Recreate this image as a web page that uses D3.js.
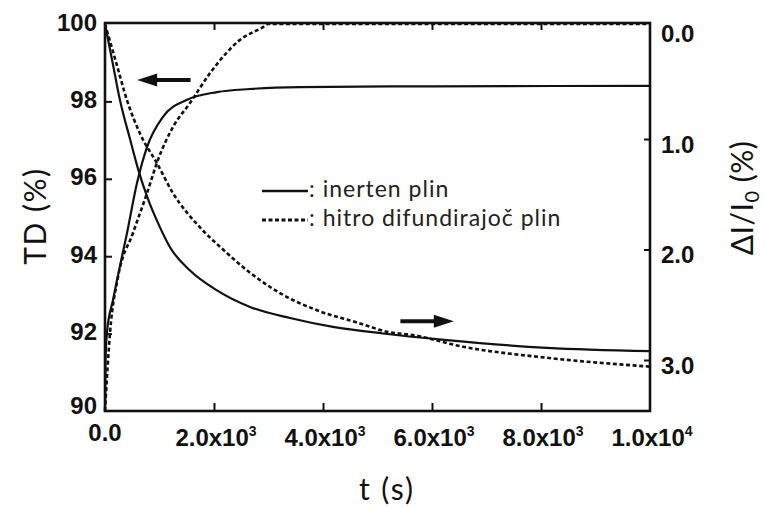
<!DOCTYPE html>
<html>
<head>
<meta charset="utf-8">
<script src="https://cdn.jsdelivr.net/npm/d3@7"></script>
<style>
  html, body { margin: 0; padding: 0; background: #fff; }
  svg { display: block; }
  .tick-lbl { font-family: "Liberation Sans", Arial, sans-serif; font-weight: bold; font-size: 24px; fill: #111; }
  .title { font-family: Lato, "DejaVu Sans", sans-serif; font-size: 30px; fill: #111; }
  .legend { font-family: Lato, "DejaVu Sans", sans-serif; font-size: 23px; letter-spacing: 1px; fill: #222; }
</style>
</head>
<body>
<svg id="chart" width="765" height="508"></svg>
<script>
// Time axis (s)
const xTicks = [0, 2000, 4000, 6000, 8000, 10000];
const xTickMant = ["0.0", "2.0x10", "4.0x10", "6.0x10", "8.0x10", "1.0x10"];
const xTickExp = ["", "3", "3", "3", "3", "4"];

// Left axis: TD (%)
const tdTicks = [90, 92, 94, 96, 98, 100];
// Right axis: ΔI/I0 (%)
const diTicks = [0, 1, 2, 3];

// TD (%) – inert gas (solid)
const tdInertT = [0, 9, 37, 147, 220, 404, 587, 771, 1064, 1505, 2055, 2661, 3578, 6000, 10000];
const tdInertV = [90.0, 91.3, 92.04, 92.87, 93.38, 94.6, 95.89, 96.82, 97.6, 98.04, 98.24, 98.32, 98.37, 98.39, 98.4];

// TD (%) – fast-diffusing gas (dashed)
const tdFastT = [0, 92, 239, 514, 771, 972, 1248, 1560, 1927, 2477, 2899, 2991, 10000];
const tdFastV = [90.0, 92.02, 93.46, 94.6, 95.63, 96.49, 97.34, 97.96, 98.73, 99.59, 99.92, 100, 100];

// ΔI/I0 (%) – inert gas (solid)
const diInertT = [0, 140, 275, 459, 606, 771, 1009, 1193, 1560, 2055, 2661, 3394, 4183, 5101, 6275, 8110, 10000];
const diInertV = [-0.04, 0.31, 0.65, 1.0, 1.27, 1.52, 1.80, 1.98, 2.19, 2.37, 2.52, 2.62, 2.70, 2.76, 2.82, 2.89, 2.92];

// ΔI/I0 (%) – fast-diffusing gas (dashed)
const diFastT = [0, 200, 404, 642, 954, 1248, 1743, 2165, 2661, 3266, 3890, 4624, 5229, 5596, 6569, 8110, 10000];
const diFastV = [-0.04, 0.30, 0.65, 0.95, 1.22, 1.49, 1.80, 2.00, 2.21, 2.41, 2.55, 2.66, 2.75, 2.77, 2.88, 2.98, 3.06];

// Arrows telling which axis each pair of curves belongs to
const arrowLeft = { t0: 1570, t1: 590, v: 98.55 };
const arrowRight = { t0: 5420, t1: 6400, v: 2.65 };

const legendItems = [
  { label: ": inerten plin", dashed: false },
  { label: ": hitro difundirajoč plin", dashed: true }
];

const svg = d3.select("#chart");
const L = 105, R = 650, T = 23, B = 411;

const x = d3.scaleLinear().domain([0, 10000]).range([L, R]);
const yL = d3.scaleLinear().domain([90, 100]).range([B, T + 1]);
const yR = d3.scaleLinear().domain([0, 3]).range([28.5, 360]);

const zip = (ts, vs) => ts.map((t, i) => [t, vs[i]]);
const lineL = d3.line().x(d => x(d[0])).y(d => yL(d[1])).curve(d3.curveMonotoneX);
const lineR = d3.line().x(d => x(d[0])).y(d => yR(d[1])).curve(d3.curveMonotoneX);

const curves = svg.append("g").attr("fill", "none").attr("stroke", "#111");
function drawCurve(path, dashed) {
  curves.append("path").attr("d", path)
    .attr("stroke-width", dashed ? 2.6 : 2.2)
    .attr("stroke-dasharray", dashed ? "4,2.6" : null);
}
drawCurve(lineL(zip(tdInertT, tdInertV)), false);
drawCurve(lineL(zip(tdFastT, tdFastV)), true);
drawCurve(lineR(zip(diInertT, diInertV)), false);
drawCurve(lineR(zip(diFastT, diFastV)), true);

// Axes with inward ticks
const axG = svg.append("g");
axG.append("g").attr("transform", `translate(0,${B})`)
  .call(d3.axisBottom(x).tickValues(xTicks.slice(1, -1)).tickSize(-8).tickFormat(""));
axG.append("g").attr("transform", `translate(0,${T})`)
  .call(d3.axisTop(x).tickValues(xTicks.slice(1, -1)).tickSize(-7).tickFormat(""));
axG.append("g").attr("transform", `translate(${L},0)`)
  .call(d3.axisLeft(yL).tickValues(tdTicks.slice(1, -1)).tickSize(-7).tickFormat(""));
axG.append("g").attr("transform", `translate(${R},0)`)
  .call(d3.axisRight(yR).tickValues(diTicks.slice(1)).tickSize(-6).tickFormat(""));
axG.selectAll(".domain").remove();
axG.selectAll(".tick line").attr("stroke", "#111").attr("stroke-width", 2);

// Frame
svg.append("rect").attr("x", L).attr("y", T).attr("width", R - L).attr("height", B - T)
  .attr("fill", "none").attr("stroke", "#111").attr("stroke-width", 2.6);

// Tick labels
svg.append("g").selectAll("text").data(tdTicks).join("text")
  .attr("class", "tick-lbl").attr("text-anchor", "end")
  .attr("x", L - 8).attr("y", d => yL(d) + (d === 90 ? 3 : 6.5))
  .text(d => d);

svg.append("g").selectAll("text").data(diTicks).join("text")
  .attr("class", "tick-lbl").attr("text-anchor", "start")
  .attr("x", R + 11).attr("y", d => yR(d) + 13.5)
  .text(d => d.toFixed(1));

const xl = svg.append("g").selectAll("text").data(xTicks).join("text")
  .attr("class", "tick-lbl").attr("text-anchor", "middle")
  .attr("x", (d, i) => x(d) + (i === 0 ? 0 : 2))
  .attr("y", (d, i) => i === 0 ? 441 : 446);
xl.append("tspan").text((d, i) => xTickMant[i]);
xl.append("tspan").attr("dy", -10).attr("font-size", 14).text((d, i) => xTickExp[i]);

// Axis titles
svg.append("text").attr("class", "title").attr("text-anchor", "middle")
  .attr("font-size", 31).attr("letter-spacing", 2)
  .attr("x", 387).attr("y", 500).text("t (s)");
svg.append("text").attr("class", "title").attr("text-anchor", "middle")
  .attr("letter-spacing", 1.5)
  .attr("transform", "translate(46,216) rotate(-90)").text("TD (%)");
const rt = svg.append("text").attr("class", "title").attr("text-anchor", "middle")
  .attr("letter-spacing", 0.5)
  .attr("transform", "translate(753,198) rotate(-90)");
rt.append("tspan").text("ΔI/I");
rt.append("tspan").attr("dy", 6).attr("font-size", 20).text("0");
rt.append("tspan").attr("dy", -6).text(" (%)");

// Legend
const lg = svg.append("g").attr("transform", "translate(262,191)");
legendItems.forEach((it, i) => {
  const g = lg.append("g").attr("transform", `translate(0,${i * 29})`);
  g.append("line").attr("x1", 0).attr("x2", 46).attr("y1", 0).attr("y2", 0)
    .attr("stroke", "#111").attr("stroke-width", it.dashed ? 3 : 2.6)
    .attr("stroke-dasharray", it.dashed ? "4,2.5" : null);
  g.append("text").attr("class", "legend").attr("x", 47).attr("y", 6).text(it.label);
});

// Arrows
function arrow(x0, x1, y) {
  const dir = Math.sign(x1 - x0);
  const head = 20;
  svg.append("line").attr("x1", x0).attr("x2", x1 - dir * head * 0.8).attr("y1", y).attr("y2", y)
    .attr("stroke", "#111").attr("stroke-width", 4);
  svg.append("path")
    .attr("d", `M${x1},${y} L${x1 - dir * head},${y - 6.5} L${x1 - dir * head},${y + 6.5} Z`)
    .attr("fill", "#111");
}
arrow(x(arrowLeft.t0), x(arrowLeft.t1), yL(arrowLeft.v));
arrow(x(arrowRight.t0), x(arrowRight.t1), yR(arrowRight.v));
</script>
</body>
</html>
